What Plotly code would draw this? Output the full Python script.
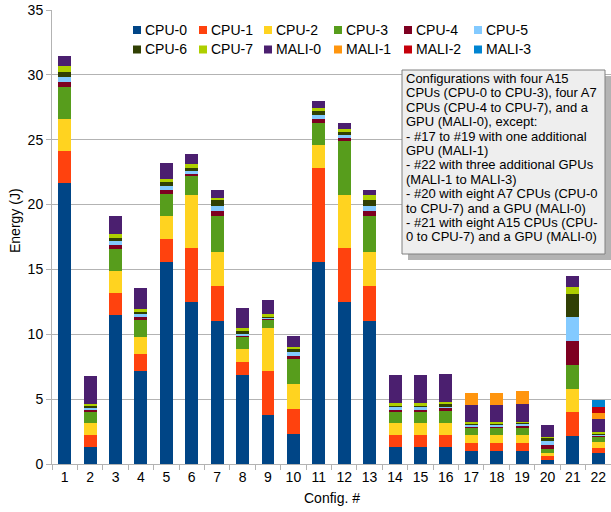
import plotly.graph_objects as go

# ---- data -------------------------------------------------------------
configs = [str(i) for i in range(1, 23)]

series_names = ["CPU-0", "CPU-1", "CPU-2", "CPU-3", "CPU-4", "CPU-5",
                "CPU-6", "CPU-7", "MALI-0", "MALI-1", "MALI-2", "MALI-3"]

cpu0 = [21.69, 1.28, 11.46, 7.14, 15.54, 12.46, 11.00, 6.83, 3.75, 2.28, 15.54,
        12.46, 11.00, 1.28, 1.28, 1.28, 0.97, 0.97, 0.97, 0.34, 2.19, 0.81]
cpu1 = [2.47, 0.93, 1.69, 1.31, 1.78, 4.16, 2.69, 1.00, 3.39, 1.93, 7.25,
        4.16, 2.69, 0.93, 0.93, 0.93, 0.62, 0.62, 0.62, 0.30, 1.85, 0.46]
cpu2 = [2.47, 0.92, 1.70, 1.31, 1.77, 4.09, 2.62, 1.01, 3.32, 1.93, 1.77,
        4.09, 2.62, 0.92, 0.92, 0.92, 0.62, 0.62, 0.62, 0.23, 1.78, 0.39]
cpu3 = [2.47, 0.93, 1.70, 1.31, 1.70, 1.46, 2.78, 0.92, 0.69, 1.93, 1.70,
        4.16, 2.78, 0.93, 0.93, 1.00, 0.53, 0.53, 0.62, 0.31, 1.85, 0.46]
cpu4 = [0.38, 0.13, 0.31, 0.23, 0.31, 0.16, 0.39, 0.16, 0.08, 0.23, 0.31,
        0.23, 0.39, 0.15, 0.15, 0.15, 0.16, 0.16, 0.15, 0.31, 1.85, 0.08]
cpu5 = [0.39, 0.15, 0.30, 0.23, 0.30, 0.31, 0.38, 0.15, 0.07, 0.30, 0.31,
        0.23, 0.38, 0.15, 0.15, 0.16, 0.15, 0.15, 0.12, 0.31, 1.85, 0.08]
cpu6 = [0.38, 0.16, 0.23, 0.16, 0.31, 0.15, 0.46, 0.15, 0.08, 0.31, 0.31,
        0.23, 0.46, 0.16, 0.16, 0.15, 0.08, 0.08, 0.08, 0.23, 1.77, 0.08]
cpu7 = [0.46, 0.15, 0.31, 0.23, 0.23, 0.31, 0.16, 0.24, 0.15, 0.08, 0.23,
        0.24, 0.39, 0.15, 0.15, 0.16, 0.08, 0.08, 0.08, 0.07, 0.54, 0.08]
mali0 = [0.77, 2.16, 1.44, 1.62, 1.24, 0.77, 0.62, 1.54, 1.08, 0.85, 0.54,
         0.46, 0.39, 2.16, 2.16, 2.16, 1.31, 1.31, 1.40, 0.93, 0.85, 1.00]
mali1 = [0, 0, 0, 0, 0, 0, 0, 0, 0, 0, 0,
         0, 0, 0, 0, 0, 0.92, 0.92, 0.93, 0, 0, 0.46]
mali2 = [0, 0, 0, 0, 0, 0, 0, 0, 0, 0, 0,
         0, 0, 0, 0, 0, 0, 0, 0, 0, 0, 0.46]
mali3 = [0, 0, 0, 0, 0, 0, 0, 0, 0, 0, 0,
         0, 0, 0, 0, 0, 0, 0, 0, 0, 0, 0.54]

series_values = [cpu0, cpu1, cpu2, cpu3, cpu4, cpu5, cpu6, cpu7,
                 mali0, mali1, mali2, mali3]

y_ticks = [0, 5, 10, 15, 20, 25, 30, 35]

note_lines = [
    "Configurations with four A15",
    "CPUs (CPU-0 to CPU-3), four A7",
    "CPUs (CPU-4 to CPU-7), and a",
    "GPU (MALI-0), except:",
    "- #17 to #19 with one additional",
    "GPU (MALI-1)",
    "- #22 with three additional GPUs",
    "(MALI-1 to MALI-3)",
    "- #20 with eight A7 CPUs (CPU-0",
    "to CPU-7) and a GPU (MALI-0)",
    "- #21 with eight A15 CPUs (CPU-",
    "0 to CPU-7) and a GPU (MALI-0)",
]

# ---- styling ------------------------------------------------------------
colors = ["#004586", "#ff420e", "#ffd320", "#579d1c", "#7e0021", "#83caff",
          "#314004", "#aecf00", "#4b1f6f", "#ff950e", "#c5000b", "#0084d1"]

FONT = "Liberation Sans, Arial, sans-serif"
GRID = "#b3b3b3"
W, H = 611, 512
M_L, M_R, M_T, M_B = 52, 0, 10, 48
PW, PH = W - M_L - M_R, H - M_T - M_B


def px(x):
    """pixel column -> paper x"""
    return (x - M_L) / PW


def py(y):
    """pixel row -> paper y"""
    return (H - M_B - y) / PH


fig = go.Figure()
for name, vals, col in zip(series_names, series_values, colors):
    fig.add_trace(go.Bar(
        x=configs, y=vals, name=name,
        marker=dict(color=col, line=dict(width=0)),
        showlegend=False,
    ))

shapes = []
annotations = []

# legend: two rows of six entries
leg_cols = [133, 199, 264, 334, 404, 474]
leg_rows = [30, 49.5]
sq = 8
for i, (name, col) in enumerate(zip(series_names, colors)):
    cx = leg_cols[i % 6]
    cy = leg_rows[i // 6]
    shapes.append(dict(
        type="rect", xref="paper", yref="paper",
        x0=px(cx), x1=px(cx + sq), y0=py(cy + sq / 2), y1=py(cy - sq / 2),
        fillcolor=col, line=dict(width=0), layer="above",
    ))
    annotations.append(dict(
        xref="paper", yref="paper", x=px(cx + sq + 2), y=py(cy),
        xanchor="left", yanchor="middle", text=name, showarrow=False,
        font=dict(family=FONT, size=14, color="#000000"),
    ))

# note box with drop shadow
box_l, box_t, box_r, box_b = 402, 70, 605, 254
shadow = 6
shapes.append(dict(
    type="rect", xref="paper", yref="paper",
    x0=px(box_l + shadow), x1=px(box_r + shadow),
    y0=py(box_b + shadow), y1=py(box_t + shadow),
    fillcolor="#b3b3b3", line=dict(width=0), layer="above",
))
shapes.append(dict(
    type="rect", xref="paper", yref="paper",
    x0=px(box_l), x1=px(box_r), y0=py(box_b), y1=py(box_t),
    fillcolor="#eeeeee", line=dict(color="#808080", width=1), layer="above",
))
line_top, line_step = 78.5, 14.4
for k, line in enumerate(note_lines):
    annotations.append(dict(
        xref="paper", yref="paper", x=px(box_l + 2), y=py(line_top + k * line_step),
        xanchor="left", yanchor="middle", text=line, showarrow=False,
        font=dict(family=FONT, size=13, color="#000000"),
    ))

# axis titles
annotations.append(dict(
    xref="paper", yref="paper", x=px(15), y=py(221), text="Energy (J)",
    textangle=-90, showarrow=False, xanchor="center", yanchor="middle",
    font=dict(family=FONT, size=14, color="#000000"),
))
annotations.append(dict(
    xref="paper", yref="paper", x=0.5, y=py(498), text="Config. #",
    showarrow=False, xanchor="center", yanchor="middle",
    font=dict(family=FONT, size=14, color="#000000"),
))

fig.update_layout(
    barmode="stack",
    bargap=0.49,
    width=W, height=H,
    margin=dict(l=M_L, r=M_R, t=M_T, b=M_B, autoexpand=False),
    paper_bgcolor="white", plot_bgcolor="white",
    font=dict(family=FONT, size=14, color="#000000"),
    shapes=shapes,
    annotations=annotations,
    xaxis=dict(
        type="category", showgrid=False, showline=True, linecolor=GRID,
        linewidth=1, ticks="outside", tickson="boundaries", ticklen=5,
        tickcolor=GRID, tickfont=dict(family=FONT, size=14, color="#000000"),
        automargin=False,
    ),
    yaxis=dict(
        range=[0, 35], tickvals=y_ticks, showgrid=True, gridcolor=GRID,
        gridwidth=1, zeroline=False, showline=True, linecolor=GRID,
        linewidth=1, ticks="outside", ticklen=5, tickcolor=GRID,
        tickfont=dict(family=FONT, size=14, color="#000000"),
        automargin=False,
    ),
)

fig.write_html("out.html")
